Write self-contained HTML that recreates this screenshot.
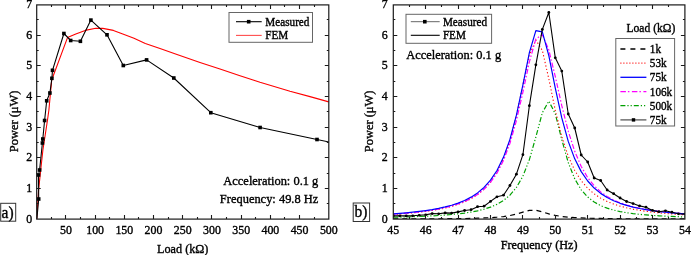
<!DOCTYPE html>
<html><head><meta charset="utf-8"><style>
html,body{margin:0;padding:0;background:#fff;}
svg{display:block;font-family:"Liberation Serif",serif;will-change:transform;}
text{fill:#000;stroke:#000;stroke-width:0.35px;}
</style></head><body>
<svg width="691" height="255" viewBox="0 0 691 255">
<rect width="691" height="255" fill="#fff"/>
<clipPath id="ca"><rect x="36.7" y="4.6" width="292.1" height="214.5"/></clipPath>
<clipPath id="cb"><rect x="393.3" y="4.6" width="291.59999999999997" height="214.5"/></clipPath>
<polyline clip-path="url(#ca)" fill="none" stroke="#ff0000" stroke-width="1.1" stroke-linejoin="round" points="36.7,219.1 38.6,190 40.7,170 42.9,150 47.5,120 48.9,110 51.7,80 67.5,37.6 75.8,33.9 85.2,30.4 95.8,28.2 102.8,28.4 113.4,30.4 122.8,33.9 134,38.2 145.3,43.4 160,48.5 177,54.6 200,62.4 220,69.0 240,75.8 260,82.3 290,91.3 310,96.6 328.8,101.9"/>
<polyline clip-path="url(#ca)" fill="none" stroke="#000" stroke-width="1.1" stroke-linejoin="round" points="36.9,218.6 38.7,199 38.5,175 39.6,170 42.4,143 42.8,139 44.6,120.5 46.7,100.8 49.9,93.0 51.9,78.3 52.5,70.3 63.9,33.5 70.7,40.5 80.4,41.3 90.9,20.1 107.0,34.8 123.3,65.5 146.6,59.9 173.8,78.0 210.8,112.7 260.1,127.5 317.0,139.5 335,143.3"/>
<g fill="#000"><rect x="36.90" y="197.20" width="3.6" height="3.6"/><rect x="36.70" y="173.20" width="3.6" height="3.6"/><rect x="37.80" y="168.20" width="3.6" height="3.6"/><rect x="40.60" y="141.20" width="3.6" height="3.6"/><rect x="41.00" y="137.20" width="3.6" height="3.6"/><rect x="42.80" y="118.70" width="3.6" height="3.6"/><rect x="44.90" y="99.00" width="3.6" height="3.6"/><rect x="48.10" y="91.20" width="3.6" height="3.6"/><rect x="50.10" y="76.50" width="3.6" height="3.6"/><rect x="50.70" y="68.50" width="3.6" height="3.6"/><rect x="62.10" y="31.70" width="3.6" height="3.6"/><rect x="68.90" y="38.70" width="3.6" height="3.6"/><rect x="78.60" y="39.50" width="3.6" height="3.6"/><rect x="89.10" y="18.30" width="3.6" height="3.6"/><rect x="105.20" y="33.00" width="3.6" height="3.6"/><rect x="121.50" y="63.70" width="3.6" height="3.6"/><rect x="144.80" y="58.10" width="3.6" height="3.6"/><rect x="172.00" y="76.20" width="3.6" height="3.6"/><rect x="209.00" y="110.90" width="3.6" height="3.6"/><rect x="258.30" y="125.70" width="3.6" height="3.6"/><rect x="315.20" y="137.70" width="3.6" height="3.6"/></g>
<rect x="36.7" y="4.9" width="292.10" height="214.20" fill="none" stroke="#1a1a1a" stroke-width="1.2"/>
<path d="M36.7,203.50h2M328.8,203.50h-2M36.7,188.50h4M328.8,188.50h-4M36.7,173.50h2M328.8,173.50h-2M36.7,157.50h4M328.8,157.50h-4M36.7,142.50h2M328.8,142.50h-2M36.7,127.50h4M328.8,127.50h-4M36.7,111.50h2M328.8,111.50h-2M36.7,96.50h4M328.8,96.50h-4M36.7,81.50h2M328.8,81.50h-2M36.7,65.50h4M328.8,65.50h-4M36.7,50.50h2M328.8,50.50h-2M36.7,35.50h4M328.8,35.50h-4M36.7,19.50h2M328.8,19.50h-2" stroke="#1a1a1a" stroke-width="1.1" fill="none"/>
<path d="M65.50,219.1v-4M65.50,4.9v4M95.50,219.1v-4M95.50,4.9v4M124.50,219.1v-4M124.50,4.9v4M153.50,219.1v-4M153.50,4.9v4M182.50,219.1v-4M182.50,4.9v4M211.50,219.1v-4M211.50,4.9v4M241.50,219.1v-4M241.50,4.9v4M270.50,219.1v-4M270.50,4.9v4M299.50,219.1v-4M299.50,4.9v4M51.50,219.1v-2M51.50,4.9v2M80.50,219.1v-2M80.50,4.9v2M109.50,219.1v-2M109.50,4.9v2M138.50,219.1v-2M138.50,4.9v2M168.50,219.1v-2M168.50,4.9v2M197.50,219.1v-2M197.50,4.9v2M226.50,219.1v-2M226.50,4.9v2M255.50,219.1v-2M255.50,4.9v2M284.50,219.1v-2M284.50,4.9v2M314.50,219.1v-2M314.50,4.9v2" stroke="#1a1a1a" stroke-width="1.1" fill="none"/>
<text transform="translate(32.30,222.60) scale(1,1.05)" font-size="11.9" text-anchor="end" >0</text>
<text transform="translate(32.30,191.96) scale(1,1.05)" font-size="11.9" text-anchor="end" >1</text>
<text transform="translate(32.30,161.31) scale(1,1.05)" font-size="11.9" text-anchor="end" >2</text>
<text transform="translate(32.30,130.67) scale(1,1.05)" font-size="11.9" text-anchor="end" >3</text>
<text transform="translate(32.30,100.03) scale(1,1.05)" font-size="11.9" text-anchor="end" >4</text>
<text transform="translate(32.30,69.39) scale(1,1.05)" font-size="11.9" text-anchor="end" >5</text>
<text transform="translate(32.30,38.74) scale(1,1.05)" font-size="11.9" text-anchor="end" >6</text>
<text transform="translate(32.30,8.10) scale(1,1.05)" font-size="11.9" text-anchor="end" >7</text>
<text transform="translate(65.91,233.70) scale(1,1.05)" font-size="11.9" text-anchor="middle" >50</text>
<text transform="translate(95.12,233.70) scale(1,1.05)" font-size="11.9" text-anchor="middle" >100</text>
<text transform="translate(124.33,233.70) scale(1,1.05)" font-size="11.9" text-anchor="middle" >150</text>
<text transform="translate(153.54,233.70) scale(1,1.05)" font-size="11.9" text-anchor="middle" >200</text>
<text transform="translate(182.75,233.70) scale(1,1.05)" font-size="11.9" text-anchor="middle" >250</text>
<text transform="translate(211.96,233.70) scale(1,1.05)" font-size="11.9" text-anchor="middle" >300</text>
<text transform="translate(241.17,233.70) scale(1,1.05)" font-size="11.9" text-anchor="middle" >350</text>
<text transform="translate(270.38,233.70) scale(1,1.05)" font-size="11.9" text-anchor="middle" >400</text>
<text transform="translate(299.59,233.70) scale(1,1.05)" font-size="11.9" text-anchor="middle" >450</text>
<text transform="translate(328.80,233.70) scale(1,1.05)" font-size="11.9" text-anchor="middle" >500</text>
<text transform="translate(182.75,252.90) scale(1,1.1)" font-size="12.2" text-anchor="middle" >Load (k&#937;)</text>
<text transform="translate(18.4,121.4) rotate(-90)" font-size="12.45" text-anchor="middle">Power (&#956;W)</text>
<rect x="229.0" y="12.5" width="83.5" height="29.8" fill="#fff" stroke="#666" stroke-width="1"/>
<path d="M236,21.7H261.7" stroke="#000" stroke-width="1.1"/>
<rect x="246.89999999999998" y="19.9" width="3.6" height="3.6" fill="#000"/>
<path d="M236,35.4H261.7" stroke="#ff0000" stroke-width="1.1" opacity="0.7"/>
<text transform="translate(265.30,25.80) scale(1,1.1)" font-size="11.2" text-anchor="start" >Measured</text>
<text transform="translate(265.30,39.30) scale(1,1.1)" font-size="11.2" text-anchor="start" >FEM</text>
<text transform="translate(318.30,185.00) scale(1,1.05)" font-size="12.45" text-anchor="end" >Acceleration: 0.1 g</text>
<text transform="translate(318.30,202.60) scale(1,1.05)" font-size="12.45" text-anchor="end" >Frequency: 49.8 Hz</text>
<rect x="0.7" y="203.3" width="15" height="17.9" fill="#fff" stroke="#333" stroke-width="1"/>
<text transform="translate(1.60,217.80) scale(1,1.1)" font-size="15.5" text-anchor="start" >a)</text>
<polyline clip-path="url(#cb)" fill="none" stroke="#000" stroke-width="1.2" stroke-dasharray="5,4" stroke-linejoin="round"  points="393.30,218.94 399.78,218.93 406.26,218.91 412.74,218.89 419.22,218.87 425.70,218.84 432.18,218.81 438.66,218.77 445.14,218.72 451.62,218.66 458.10,218.58 464.58,218.49 471.06,218.36 477.54,218.20 484.02,217.97 490.50,217.66 496.98,217.21 503.46,216.55 509.94,215.56 516.42,214.08 522.90,212.12 529.38,210.38 535.86,210.28 542.34,211.92 548.82,213.90 555.30,215.43 561.78,216.47 568.26,217.16 574.74,217.62 581.22,217.95 587.70,218.18 594.18,218.35 600.66,218.47 607.14,218.57 613.62,218.65 620.10,218.71 626.58,218.76 633.06,218.80 639.54,218.84 646.02,218.87 652.50,218.89 658.98,218.91 665.46,218.93 671.94,218.94 678.42,218.96 684.90,218.97"/>
<polyline clip-path="url(#cb)" fill="none" stroke="#00a000" stroke-width="1.2" stroke-dasharray="5,2,1.2,2,1.2,2" stroke-linejoin="round"  points="393.30,217.26 399.78,217.09 406.26,216.91 412.74,216.70 419.22,216.46 425.70,216.18 432.18,215.86 438.66,215.48 445.14,215.03 451.62,214.49 458.10,213.84 464.58,213.04 471.06,212.05 477.54,210.81 484.02,209.21 490.50,207.13 496.98,204.34 503.46,200.54 509.94,195.19 516.42,187.49 522.90,176.18 529.38,159.62 535.86,137.01 542.34,112.75 548.82,101.12 555.30,113.86 561.78,139.60 568.26,162.62 574.74,178.91 581.22,189.79 587.70,197.07 594.18,202.07 600.66,205.61 607.14,208.18 613.62,210.09 620.10,211.56 626.58,212.70 633.06,213.60 639.54,214.33 646.02,214.92 652.50,215.41 658.98,215.82 665.46,216.17 671.94,216.46 678.42,216.71 684.90,216.93"/>
<polyline clip-path="url(#cb)" fill="none" stroke="#ff0000" stroke-width="1.1" stroke-dasharray="1.2,2.3" stroke-linejoin="round"  points="393.30,214.42 399.78,213.97 406.26,213.47 412.74,212.88 419.22,212.21 425.70,211.41 432.18,210.47 438.66,209.36 445.14,208.01 451.62,206.38 458.10,204.37 464.58,201.87 471.06,198.69 477.54,194.61 484.02,189.26 490.50,182.11 496.98,172.41 503.46,159.04 509.94,140.57 516.42,115.68 522.90,84.98 529.38,54.99 535.86,39.98 542.34,50.38 548.82,78.89 555.30,110.39 561.78,136.63 568.26,156.26 574.74,170.47 581.22,180.74 587.70,188.28 594.18,193.89 600.66,198.16 607.14,201.47 613.62,204.07 620.10,206.15 626.58,207.83 633.06,209.21 639.54,210.36 646.02,211.32 652.50,212.13 658.98,212.82 665.46,213.42 671.94,213.93 678.42,214.38 684.90,214.78"/>
<polyline clip-path="url(#cb)" fill="none" stroke="#ff00ff" stroke-width="1.2" stroke-dasharray="5,2,1.5,2" stroke-linejoin="round"  points="393.30,214.10 399.78,213.64 406.26,213.12 412.74,212.52 419.22,211.82 425.70,211.01 432.18,210.06 438.66,208.94 445.14,207.59 451.62,205.97 458.10,203.98 464.58,201.51 471.06,198.41 477.54,194.44 484.02,189.26 490.50,182.39 496.98,173.13 503.46,160.53 509.94,143.39 516.42,120.61 522.90,92.23 529.38,61.85 535.86,38.91 542.34,34.76 548.82,49.94 555.30,76.67 561.78,105.67 568.26,131.18 574.74,151.35 581.22,166.49 587.70,177.63 594.18,185.82 600.66,191.89 607.14,196.47 613.62,200.00 620.10,202.76 626.58,204.96 633.06,206.75 639.54,208.22 646.02,209.45 652.50,210.48 658.98,211.36 665.46,212.11 671.94,212.76 678.42,213.32 684.90,213.81"/>
<polyline clip-path="url(#cb)" fill="none" stroke="#0000ff" stroke-width="1.2" stroke-linejoin="round"  points="393.30,213.87 399.78,213.39 406.26,212.83 412.74,212.19 419.22,211.46 425.70,210.59 432.18,209.58 438.66,208.38 445.14,206.94 451.62,205.21 458.10,203.08 464.58,200.44 471.06,197.13 477.54,192.91 484.02,187.43 490.50,180.20 496.98,170.51 503.46,157.33 509.94,139.33 516.42,115.16 522.90,84.77 529.38,52.59 535.86,30.58 542.34,31.88 548.82,55.60 555.30,88.02 561.78,117.88 568.26,141.39 574.74,158.84 581.22,171.61 587.70,181.02 594.18,188.04 600.66,193.38 607.14,197.50 613.62,200.73 620.10,203.31 626.58,205.40 633.06,207.10 639.54,208.51 646.02,209.69 652.50,210.69 658.98,211.53 665.46,212.26 671.94,212.89 678.42,213.44 684.90,213.91"/>
<polyline clip-path="url(#cb)" fill="none" stroke="#000" stroke-width="1.1" stroke-linejoin="round"  points="393.30,215.90 399.78,215.80 406.26,215.90 412.74,215.80 419.22,215.30 425.70,214.80 432.18,213.60 438.66,213.80 445.14,212.90 451.62,213.10 458.10,211.90 464.58,210.50 471.06,209.70 477.54,206.70 484.02,206.20 490.50,201.40 496.98,196.80 503.46,195.20 509.94,185.50 516.42,174.20 522.90,154.70 529.38,105.70 535.86,64.80 542.34,29.40 548.82,12.50 555.30,57.80 561.78,71.10 568.26,114.00 574.74,128.00 581.22,155.00 587.70,162.00 594.18,178.00 600.66,180.50 607.14,190.00 613.62,193.70 620.10,198.00 626.58,201.50 633.06,203.60 639.54,205.90 646.02,207.20 652.50,210.40 658.98,211.70 665.46,210.80 671.94,212.20 678.42,213.80 684.90,214.10"/>
<g fill="#000" clip-path="url(#cb)"><circle cx="393.30" cy="215.90" r="1.4"/><circle cx="399.78" cy="215.80" r="1.4"/><circle cx="406.26" cy="215.90" r="1.4"/><circle cx="412.74" cy="215.80" r="1.4"/><circle cx="419.22" cy="215.30" r="1.4"/><circle cx="425.70" cy="214.80" r="1.4"/><circle cx="432.18" cy="213.60" r="1.4"/><circle cx="438.66" cy="213.80" r="1.4"/><circle cx="445.14" cy="212.90" r="1.4"/><circle cx="451.62" cy="213.10" r="1.4"/><circle cx="458.10" cy="211.90" r="1.4"/><circle cx="464.58" cy="210.50" r="1.4"/><circle cx="471.06" cy="209.70" r="1.4"/><circle cx="477.54" cy="206.70" r="1.4"/><circle cx="484.02" cy="206.20" r="1.4"/><circle cx="490.50" cy="201.40" r="1.4"/><circle cx="496.98" cy="196.80" r="1.4"/><circle cx="503.46" cy="195.20" r="1.4"/><circle cx="509.94" cy="185.50" r="1.4"/><circle cx="516.42" cy="174.20" r="1.4"/><circle cx="522.90" cy="154.70" r="1.4"/><circle cx="529.38" cy="105.70" r="1.4"/><circle cx="535.86" cy="64.80" r="1.4"/><circle cx="542.34" cy="29.40" r="1.4"/><circle cx="548.82" cy="12.50" r="1.4"/><circle cx="555.30" cy="57.80" r="1.4"/><circle cx="561.78" cy="71.10" r="1.4"/><circle cx="568.26" cy="114.00" r="1.4"/><circle cx="574.74" cy="128.00" r="1.4"/><circle cx="581.22" cy="155.00" r="1.4"/><circle cx="587.70" cy="162.00" r="1.4"/><circle cx="594.18" cy="178.00" r="1.4"/><circle cx="600.66" cy="180.50" r="1.4"/><circle cx="607.14" cy="190.00" r="1.4"/><circle cx="613.62" cy="193.70" r="1.4"/><circle cx="620.10" cy="198.00" r="1.4"/><circle cx="626.58" cy="201.50" r="1.4"/><circle cx="633.06" cy="203.60" r="1.4"/><circle cx="639.54" cy="205.90" r="1.4"/><circle cx="646.02" cy="207.20" r="1.4"/><circle cx="652.50" cy="210.40" r="1.4"/><circle cx="658.98" cy="211.70" r="1.4"/><circle cx="665.46" cy="210.80" r="1.4"/><circle cx="671.94" cy="212.20" r="1.4"/><circle cx="678.42" cy="213.80" r="1.4"/><circle cx="684.90" cy="214.10" r="1.4"/></g>
<rect x="393.3" y="4.9" width="291.60" height="214.20" fill="none" stroke="#1a1a1a" stroke-width="1.2"/>
<path d="M393.3,203.50h2M684.9,203.50h-2M393.3,188.50h4M684.9,188.50h-4M393.3,173.50h2M684.9,173.50h-2M393.3,157.50h4M684.9,157.50h-4M393.3,142.50h2M684.9,142.50h-2M393.3,127.50h4M684.9,127.50h-4M393.3,111.50h2M684.9,111.50h-2M393.3,96.50h4M684.9,96.50h-4M393.3,81.50h2M684.9,81.50h-2M393.3,65.50h4M684.9,65.50h-4M393.3,50.50h2M684.9,50.50h-2M393.3,35.50h4M684.9,35.50h-4M393.3,19.50h2M684.9,19.50h-2" stroke="#1a1a1a" stroke-width="1.1" fill="none"/>
<path d="M425.50,219.1v-4M425.50,4.9v4M458.50,219.1v-4M458.50,4.9v4M490.50,219.1v-4M490.50,4.9v4M522.50,219.1v-4M522.50,4.9v4M555.50,219.1v-4M555.50,4.9v4M587.50,219.1v-4M587.50,4.9v4M620.50,219.1v-4M620.50,4.9v4M652.50,219.1v-4M652.50,4.9v4M409.50,219.1v-2M409.50,4.9v2M441.50,219.1v-2M441.50,4.9v2M474.50,219.1v-2M474.50,4.9v2M506.50,219.1v-2M506.50,4.9v2M539.50,219.1v-2M539.50,4.9v2M571.50,219.1v-2M571.50,4.9v2M603.50,219.1v-2M603.50,4.9v2M636.50,219.1v-2M636.50,4.9v2M668.50,219.1v-2M668.50,4.9v2" stroke="#1a1a1a" stroke-width="1.1" fill="none"/>
<text transform="translate(387.60,222.60) scale(1,1.05)" font-size="11.9" text-anchor="end" >0</text>
<text transform="translate(387.60,191.96) scale(1,1.05)" font-size="11.9" text-anchor="end" >1</text>
<text transform="translate(387.60,161.31) scale(1,1.05)" font-size="11.9" text-anchor="end" >2</text>
<text transform="translate(387.60,130.67) scale(1,1.05)" font-size="11.9" text-anchor="end" >3</text>
<text transform="translate(387.60,100.03) scale(1,1.05)" font-size="11.9" text-anchor="end" >4</text>
<text transform="translate(387.60,69.39) scale(1,1.05)" font-size="11.9" text-anchor="end" >5</text>
<text transform="translate(387.60,38.74) scale(1,1.05)" font-size="11.9" text-anchor="end" >6</text>
<text transform="translate(387.60,8.10) scale(1,1.05)" font-size="11.9" text-anchor="end" >7</text>
<text transform="translate(393.30,233.70) scale(1,1.05)" font-size="11.9" text-anchor="middle" >45</text>
<text transform="translate(425.70,233.70) scale(1,1.05)" font-size="11.9" text-anchor="middle" >46</text>
<text transform="translate(458.10,233.70) scale(1,1.05)" font-size="11.9" text-anchor="middle" >47</text>
<text transform="translate(490.50,233.70) scale(1,1.05)" font-size="11.9" text-anchor="middle" >48</text>
<text transform="translate(522.90,233.70) scale(1,1.05)" font-size="11.9" text-anchor="middle" >49</text>
<text transform="translate(555.30,233.70) scale(1,1.05)" font-size="11.9" text-anchor="middle" >50</text>
<text transform="translate(587.70,233.70) scale(1,1.05)" font-size="11.9" text-anchor="middle" >51</text>
<text transform="translate(620.10,233.70) scale(1,1.05)" font-size="11.9" text-anchor="middle" >52</text>
<text transform="translate(652.50,233.70) scale(1,1.05)" font-size="11.9" text-anchor="middle" >53</text>
<text transform="translate(684.90,233.70) scale(1,1.05)" font-size="11.9" text-anchor="middle" >54</text>
<text transform="translate(539.10,248.90) scale(1,1.1)" font-size="12.2" text-anchor="middle" >Frequency (Hz)</text>
<text transform="translate(372.8,121.4) rotate(-90)" font-size="12.45" text-anchor="middle">Power (&#956;W)</text>
<rect x="406.0" y="14.3" width="85.6" height="29.0" fill="#fff" stroke="#666" stroke-width="1"/>
<path d="M410.8,21.7H439.7" stroke="#000" stroke-width="1" opacity="0.6"/>
<rect x="423.0" y="19.9" width="3.6" height="3.6" fill="#000"/>
<path d="M410.8,35.3H439.7" stroke="#000" stroke-width="1.1"/>
<text transform="translate(442.90,25.50) scale(1,1.1)" font-size="11.2" text-anchor="start" >Measured</text>
<text transform="translate(442.90,39.10) scale(1,1.1)" font-size="11.2" text-anchor="start" >FEM</text>
<text transform="translate(406.20,59.10) scale(1,1.05)" font-size="12.45" text-anchor="start" >Acceleration: 0.1 g</text>
<text transform="translate(675.30,31.90) scale(1,1.1)" font-size="11.6" text-anchor="end" >Load (k&#937;)</text>
<rect x="615.8" y="38.5" width="58.8" height="87.5" fill="#fff" stroke="#666" stroke-width="1"/>
<path d="M620.4,49.0H646.4" stroke="#000" stroke-width="1.3" stroke-dasharray="5,5"/>
<path d="M620.4,63.1H646.4" stroke="#ff0000" stroke-width="1.1" stroke-dasharray="1,2"/>
<path d="M620.4,77.3H646.4" stroke="#0000ff" stroke-width="1.3"/>
<path d="M620.4,91.6H646.4" stroke="#ff00ff" stroke-width="1.3" stroke-dasharray="5.5,2,1.5,2.5"/>
<path d="M620.4,105.7H646.4" stroke="#00a000" stroke-width="1.3" stroke-dasharray="5,2,1.2,2,1.2,2"/>
<path d="M620.4,119.9H646.4" stroke="#000" stroke-width="1.2" opacity="0.7"/>
<rect x="631.8" y="118.2" width="3.4" height="3.4" fill="#000"/>
<text transform="translate(649.80,53.00) scale(1,1.1)" font-size="11.2" text-anchor="start" >1k</text>
<text transform="translate(649.80,67.10) scale(1,1.1)" font-size="11.2" text-anchor="start" >53k</text>
<text transform="translate(649.80,81.30) scale(1,1.1)" font-size="11.2" text-anchor="start" >75k</text>
<text transform="translate(649.80,95.60) scale(1,1.1)" font-size="11.2" text-anchor="start" >106k</text>
<text transform="translate(649.80,109.70) scale(1,1.1)" font-size="11.2" text-anchor="start" >500k</text>
<text transform="translate(649.80,123.90) scale(1,1.1)" font-size="11.2" text-anchor="start" >75k</text>
<rect x="353.2" y="203.0" width="16.4" height="18.5" fill="#fff" stroke="#333" stroke-width="1"/>
<text transform="translate(354.40,217.30) scale(1,1.1)" font-size="15.5" text-anchor="start" >b)</text>
</svg>
</body></html>
